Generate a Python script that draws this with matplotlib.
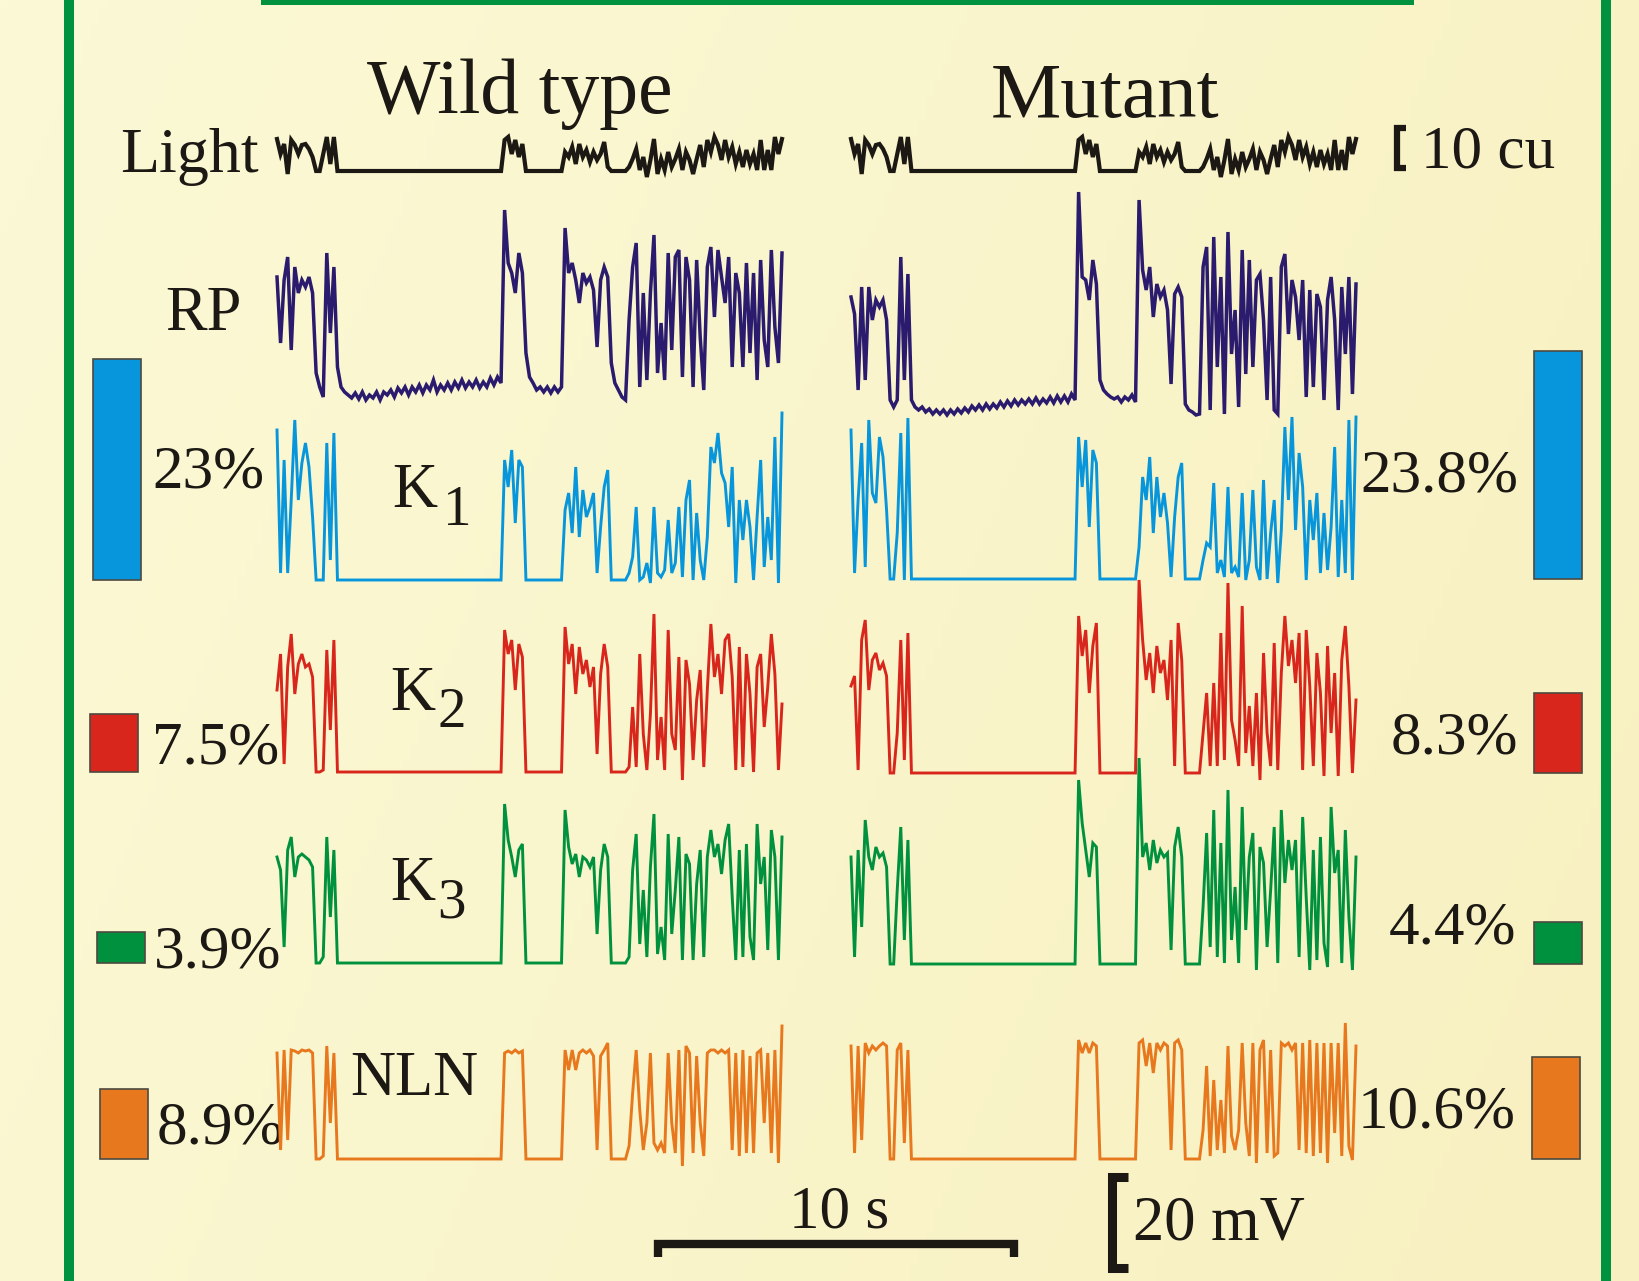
import numpy as np
import matplotlib.pyplot as plt

plt.rcParams['font.family'] = ['Liberation Serif', 'DejaVu Serif']

W, H = 1639, 1281
dt = 0.1          # s between samples
dur = 14.2        # s shown per trace
span = 505        # trace width in px
px_per_s = span / dur

# ---- recordings (amplitude above resting level, 91 units = 20 mV) ----
light = [32, 17, 27, -3, 31, 26, 17, 26, 27, 22, 14, 0, 0, 17, 34, 7, 34,
         0, 0, 0, 0, 0, 0, 0, 0, 0, 0, 0, 0, 0, 0, 0, 0, 0, 0, 0, 0,
         0, 0, 0, 0, 0, 0, 0, 0, 0, 0, 0, 0, 0, 0, 0, 0, 0, 0, 0, 0,
         0, 0, 0, 0, 0, 0, 0,
         31, 34, 17, 31, 14, 27,
         0, 0, 0, 0, 0, 0, 0, 0, 0, 0, 0,
         19, 14, 24, 7, 27, 14, 21, 9, 19, 11, 17, 29, 4,
         0, 0, 0, 0, 0,
         4, 12, 22, 1, 14, -6, 11, 32, -3, 12, 1, 19, 4, 12, 22, 1, 19, 11, -3, 12,
         26, 4, 31, 19, 34, 26, 11, 31, 14, 24, 7, 19, 4, 21, 7, 17, 1, 31, 1, 21,
         1, 34, 17, 32]

rp_wt = [123, 57, 120, 143, 50, 133, 107, 120, 113, 123, 107, 27, 13, 3, 147, 67, 133,
         33, 13, 8, 5, 2, 7, 1, 8, 0, 5, 2, 8, 0, 8, 5, 10, 3, 12, 7, 13,
         5, 13, 8, 15, 7, 15, 10, 20, 8, 15, 10, 17, 10, 18, 12, 20, 12, 18, 13, 20,
         12, 18, 13, 22, 15, 23, 17,
         190, 137, 127, 107, 147, 127,
         47, 23, 17, 10, 13, 8, 13, 7, 13, 8, 13,
         172, 127, 137, 120, 97, 127, 117, 123, 110, 53, 120, 133, 123,
         37, 17, 10, 3, 0,
         80, 133, 157, 13, 107, 20, 107, 165, 27, 77, 20, 147, 50, 143, 150, 23, 143, 120, 13, 140,
         63, 10, 133, 153, 83, 150, 123, 97, 143, 33, 127, 107, 33, 137, 47, 127, 20, 140, 60, 33,
         150, 73, 37, 147]

k1_wt = [150, 7, 120, 7, 80, 160, 80, 117, 137, 113, 63, 0, 0, 0, 137, 20, 147,
         0, 0, 0, 0, 0, 0, 0, 0, 0, 0, 0, 0, 0, 0, 0, 0, 0, 0, 0, 0,
         0, 0, 0, 0, 0, 0, 0, 0, 0, 0, 0, 0, 0, 0, 0, 0, 0, 0, 0, 0,
         0, 0, 0, 0, 0, 0, 0,
         120, 93, 130, 57, 120, 113,
         0, 0, 0, 0, 0, 0, 0, 0, 0, 0, 0,
         70, 87, 47, 113, 43, 90, 63, 73, 87, 7, 53, 93, 110,
         0, 0, 0, 0, 0,
         7, 23, 73, 0, 3, 17, -3, 73, 7, 3, 10, 60, 7, 17, 73, 3, 80, 100, 0, 67,
         20, 0, 43, 133, 117, 147, 107, 97, 53, 113, -3, 80, 40, 80, 53, 0, 63, 120, 13, 63,
         20, 143, -3, 167]

k2_wt = [82, 118, 8, 105, 138, 78, 108, 118, 105, 108, 95, 0, 0, 2, 122, 42, 132,
         0, 0, 0, 0, 0, 0, 0, 0, 0, 0, 0, 0, 0, 0, 0, 0, 0, 0, 0, 0,
         0, 0, 0, 0, 0, 0, 0, 0, 0, 0, 0, 0, 0, 0, 0, 0, 0, 0, 0, 0,
         0, 0, 0, 0, 0, 0, 0,
         142, 118, 132, 82, 128, 115,
         0, 0, 0, 0, 0, 0, 0, 0, 0, 0, 0,
         145, 108, 128, 78, 125, 98, 112, 85, 105, 18, 98, 128, 105,
         0, 0, 0, 0, 0,
         5, 65, 5, 118, 38, 2, 58, 158, 12, 55, 2, 142, 38, 22, 115, -8, 112, 88, 12, 72,
         102, 5, 82, 148, 95, 118, 78, 132, 138, 95, 2, 125, 5, 118, 78, 0, 105, 118, 45, 85,
         138, 98, 2, 68]

k3_wt = [106, 93, 16, 113, 126, 86, 106, 109, 106, 103, 96, 0, 0, 6, 126, 46, 113,
         0, 0, 0, 0, 0, 0, 0, 0, 0, 0, 0, 0, 0, 0, 0, 0, 0, 0, 0, 0,
         0, 0, 0, 0, 0, 0, 0, 0, 0, 0, 0, 0, 0, 0, 0, 0, 0, 0, 0, 0,
         0, 0, 0, 0, 0, 0, 0,
         159, 123, 106, 86, 113, 119,
         0, 0, 0, 0, 0, 0, 0, 0, 0, 0, 0,
         153, 116, 99, 109, 86, 106, 103, 96, 106, 29, 93, 119, 106,
         0, 0, 0, 0, 0,
         6, 93, 129, 19, 73, 6, 96, 149, 9, 36, 3, 129, 29, 73, 126, 3, 109, 99, 3, 79,
         113, 6, 106, 133, 106, 119, 89, 123, 139, 66, 3, 113, 6, 119, 26, 3, 139, 79, 106, 13,
         133, 106, 3, 126]

nln_wt = [106, 9, 109, 19, 109, 108, 106, 109, 108, 109, 106, 0, 0, 3, 113, 36, 106,
          0, 0, 0, 0, 0, 0, 0, 0, 0, 0, 0, 0, 0, 0, 0, 0, 0, 0, 0, 0,
          0, 0, 0, 0, 0, 0, 0, 0, 0, 0, 0, 0, 0, 0, 0, 0, 0, 0, 0, 0,
          0, 0, 0, 0, 0, 0, 0,
          106, 108, 106, 109, 106, 108,
          0, 0, 0, 0, 0, 0, 0, 0, 0, 0, 0,
          109, 89, 109, 89, 106, 109, 106, 109, 103, 9, 103, 109, 116,
          0, 0, 0, 0, 0,
          13, 66, 109, 49, 9, 36, 106, 16, 9, 16, 6, 106, 36, 6, 109, -7, 113, 106, 6, 103,
          36, 3, 106, 109, 109, 106, 109, 106, 109, 9, 106, 3, 109, 6, 103, 6, 106, 109, 36, 106,
          6, 109, -4, 133]

rp_mut = [120, 103, 27, 130, 37, 130, 97, 117, 110, 117, 97, 17, 10, 17, 160, 37, 143,
          17, 10, 7, 10, 5, 8, 3, 7, 3, 7, 2, 7, 3, 8, 4, 9, 5, 11, 7, 12,
          7, 13, 8, 13, 9, 15, 10, 16, 11, 17, 12, 17, 13, 18, 13, 19, 13, 18, 14, 20,
          14, 21, 15, 21, 15, 23, 17,
          225, 140, 137, 117, 157, 133,
          37, 27, 23, 20, 18, 20, 15, 20, 17, 22, 15,
          217, 147, 127, 150, 100, 133, 120, 127, 107, 33, 123, 130, 120,
          13, 7, 5, 2, 3,
          150, 170, 7, 180, 50, 140, 3, 185, 63, 107, 10, 167, 43, 157, 50, 137, 143, 97, 17, 140,
          7, 3, 150, 163, 83, 137, 120, 77, 137, 20, 127, 30, 123, 110, 17, 117, 140, 97, 7, 130,
          63, 140, 23, 133]

k1_mut = [149, 6, 79, 136, 12, 159, 86, 76, 142, 122, 69, 0, 0, 46, 146, -1, 161,
          0, 0, 0, 0, 0, 0, 0, 0, 0, 0, 0, 0, 0, 0, 0, 0, 0, 0, 0, 0,
          0, 0, 0, 0, 0, 0, 0, 0, 0, 0, 0, 0, 0, 0, 0, 0, 0, 0, 0, 0,
          0, 0, 0, 0, 0, 0, 0,
          142, 92, 139, 52, 129, 116,
          0, 0, 0, 0, 0, 0, 0, 0, 0, 0, 0,
          32, 102, 79, 122, 46, 102, 62, 86, 56, 2, 62, 102, 116,
          0, 0, 0, 0, 0,
          19, 36, 32, 96, 6, 19, 2, 92, 6, 12, 2, 86, -1, 19, 89, 12, -1, 99, 0, 46,
          79, -4, 49, 152, 79, 162, 49, 126, 92, -1, 79, 39, 86, 6, 66, 9, 52, 132, 2, 79,
          6, 159, -1, 162]

k2_mut = [87, 97, 3, 133, 153, 83, 113, 120, 103, 110, 97, 0, 0, 40, 133, 13, 140,
          0, 0, 0, 0, 0, 0, 0, 0, 0, 0, 0, 0, 0, 0, 0, 0, 0, 0, 0, 0,
          0, 0, 0, 0, 0, 0, 0, 0, 0, 0, 0, 0, 0, 0, 0, 0, 0, 0, 0, 0,
          0, 0, 0, 0, 0, 0, 0,
          157, 117, 143, 80, 127, 150,
          0, 0, 0, 0, 0, 0, 0, 0, 0, 0, 0,
          193, 133, 93, 120, 80, 127, 100, 113, 73, 133, 7, 150, 113,
          0, 0, 0, 0, 0,
          40, 80, 7, 90, 7, 140, 13, 190, 53, 33, 7, 167, 20, 67, 7, 80, -7, 120, 40, 7,
          130, 3, 100, 157, 107, 133, 90, 140, 3, 143, 87, 7, 120, 80, -3, 127, 40, 100, -3, 113,
          147, 87, 0, 73]

k3_mut = [107, 7, 114, 37, 144, 107, 94, 117, 107, 111, 97, 0, 0, 74, 137, 24, 124,
          0, 0, 0, 0, 0, 0, 0, 0, 0, 0, 0, 0, 0, 0, 0, 0, 0, 0, 0, 0,
          0, 0, 0, 0, 0, 0, 0, 0, 0, 0, 0, 0, 0, 0, 0, 0, 0, 0, 0, 0,
          0, 0, 0, 0, 0, 0, 0,
          184, 141, 114, 87, 121, 117,
          0, 0, 0, 0, 0, 0, 0, 0, 0, 0, 0,
          206, 107, 121, 94, 124, 101, 114, 107, 111, 14, 117, 137, 107,
          0, 0, 0, 0, 0,
          57, 131, 17, 154, 7, 121, 1, 174, 24, 77, 1, 157, 34, 107, 131, -6, 117, 101, 17, 74,
          137, 1, 154, 81, 124, 94, 124, 7, 147, 67, -6, 114, 4, 127, 21, -3, 157, 91, 114, 1,
          134, 47, -6, 107]

nln_mut = [113, 6, 113, 19, 116, 106, 113, 109, 113, 116, 113, 0, 0, 109, 116, 16, 109,
           0, 0, 0, 0, 0, 0, 0, 0, 0, 0, 0, 0, 0, 0, 0, 0, 0, 0, 0, 0,
           0, 0, 0, 0, 0, 0, 0, 0, 0, 0, 0, 0, 0, 0, 0, 0, 0, 0, 0, 0,
           0, 0, 0, 0, 0, 0, 0,
           119, 106, 116, 106, 116, 113,
           0, 0, 0, 0, 0, 0, 0, 0, 0, 0, 0,
           116, 119, 93, 116, 86, 116, 109, 116, 113, 9, 116, 119, 109,
           0, 0, 0, 0, 0,
           29, 93, 3, 79, 9, 59, 6, 113, 23, 9, 29, 116, 36, 3, 116, -4, 109, 119, 6, 109,
           3, 6, 116, 113, 116, 109, 116, 9, 116, 6, 119, 3, 116, 6, 116, -4, 116, 26, 116, 3,
           136, 13, -1, 113]

# fraction bars (height in %, as drawn) and their labels
wt_bar = [23.0, 6.0, 3.2, 7.3]
mut_bar = [23.8, 8.3, 4.4, 10.6]
wt_pct = ['23%', '7.5%', '3.9%', '8.9%']
mut_pct = ['23.8%', '8.3%', '4.4%', '10.6%']

# ---- layout ----
ink = '#1c1814'
green = '#00923f'
colors = {'light': ink, 'rp': '#2b1b6e', 'k1': '#0796dc', 'k2': '#d9261d',
          'k3': '#00913f', 'nln': '#e8781e'}
widths = {'light': 3.0, 'rp': 2.5, 'k1': 2.1, 'k2': 2.1, 'k3': 2.1, 'nln': 2.1}
x_wt, x_mut = 277, 851
base_wt = {'light': 171, 'rp': 400, 'k1': 580, 'k2': 772, 'k3': 963, 'nln': 1159}
base_mut = {'light': 171, 'rp': 417, 'k1': 579, 'k2': 773, 'k3': 964, 'nln': 1159}

fig = plt.figure(figsize=(W / 100, H / 100), dpi=100)
bg = fig.add_axes([0, 0, 1, 1])
bg.set_xlim(0, W)
bg.set_ylim(H, 0)
bg.axis('off')

# pale yellow paper, slightly darker to the right
c1 = np.array([251, 249, 214]) / 255
c2 = np.array([248, 240, 192]) / 255
gx = np.linspace(0, 1, 200)
gy = np.linspace(0, 1, 160)
gg = np.clip(0.75 * gx[None, :] + 0.25 * gy[:, None], 0, 1)
bg.imshow(c1 + (c2 - c1) * gg[..., None], extent=(0, W, H, 0), aspect='auto', zorder=0)

# green frame
bg.plot([69, 69], [0, H], color=green, lw=7.2, solid_capstyle='butt')
bg.plot([1606, 1606], [0, H], color=green, lw=7.2, solid_capstyle='butt')
bg.plot([261, 1414], [0, 0], color=green, lw=7.2, solid_capstyle='butt')


def trace(x0, ybase, vals, color, lw=2.0):
    ax = fig.add_axes([x0 / W, (H - ybase - 40) / H, span / W, 300 / H])
    ax.set_xlim(0, dur)
    ax.set_ylim(-40, 260)
    ax.axis('off')
    ax.patch.set_alpha(0)
    t = np.arange(len(vals)) * dt
    ax.plot(t, vals, color=color, lw=lw, clip_on=False, solid_joinstyle='miter')


wt_traces = {'light': light, 'rp': rp_wt, 'k1': k1_wt, 'k2': k2_wt, 'k3': k3_wt, 'nln': nln_wt}
mut_traces = {'light': light, 'rp': rp_mut, 'k1': k1_mut, 'k2': k2_mut, 'k3': k3_mut, 'nln': nln_mut}
for key in wt_traces:
    trace(x_wt, base_wt[key], wt_traces[key], colors[key], widths[key])
    trace(x_mut, base_mut[key], mut_traces[key], colors[key], widths[key])

# fraction bars, bottom on each trace's resting line
px_per_pct = 9.6
rows = ['k1', 'k2', 'k3', 'nln']
wt_bar_x = [117, 114, 121, 124]
mut_bar_x = [1558, 1558, 1558, 1556]
for i, key in enumerate(rows):
    bg.bar(wt_bar_x[i], -wt_bar[i] * px_per_pct, bottom=base_wt[key], width=48,
           color=colors[key], edgecolor='#4d4a40', lw=1.2, zorder=3)
    bg.bar(mut_bar_x[i], -mut_bar[i] * px_per_pct, bottom=base_mut[key], width=48,
           color=colors[key], edgecolor='#4d4a40', lw=1.2, zorder=3)

# text
tk = dict(color=ink, va='baseline')
bg.text(520, 113, 'Wild type', ha='center', fontsize=56, **tk)
bg.text(1105, 117, 'Mutant', ha='center', fontsize=57, **tk)
bg.text(120, 172, 'Light', ha='left', fontsize=46, **tk)
bg.text(1421, 168, '10 cu', ha='left', fontsize=44, **tk)
bg.text(165, 330, 'RP', ha='left', fontsize=45, **tk)
bg.text(392, 507, 'K', ha='left', fontsize=45, **tk)
bg.text(443, 525, '1', ha='left', fontsize=41, **tk)
bg.text(390, 710, 'K', ha='left', fontsize=45, **tk)
bg.text(438, 727, '2', ha='left', fontsize=41, **tk)
bg.text(390, 900, 'K', ha='left', fontsize=45, **tk)
bg.text(437, 918, '3', ha='left', fontsize=41, **tk)
bg.text(350, 1095, 'NLN', ha='left', fontsize=45, **tk)

wt_pct_xy = [(152, 488), (152, 763), (154, 968), (157, 1143)]
mut_pct_xy = [(1518, 492), (1518, 753), (1516, 943), (1516, 1127)]
for i in range(4):
    bg.text(*wt_pct_xy[i], wt_pct[i], ha='left', fontsize=44, **tk)
    bg.text(*mut_pct_xy[i], mut_pct[i], ha='right', fontsize=44, **tk)

# scale bars
xs = 658
xe = xs + 10 * px_per_s
bg.plot([xs, xs, xe, xe], [1257, 1244, 1244, 1257], color=ink, lw=6, solid_joinstyle='miter',
        solid_capstyle='butt')
bg.text((xs + xe) / 2 + 3, 1228, '10 s', ha='center', fontsize=44, **tk)

mv20 = 91
bg.plot([1128, 1112, 1112, 1128], [1177, 1177, 1177 + mv20, 1177 + mv20], color=ink, lw=6.5,
        solid_joinstyle='miter', solid_capstyle='butt')
bg.text(1133, 1240, '20 mV', ha='left', fontsize=45, **tk)

bg.plot([1406, 1397, 1397, 1406], [128, 128, 168, 168], color=ink, lw=4.5,
        solid_joinstyle='miter', solid_capstyle='butt')

fig.savefig('out.png', dpi=100)
